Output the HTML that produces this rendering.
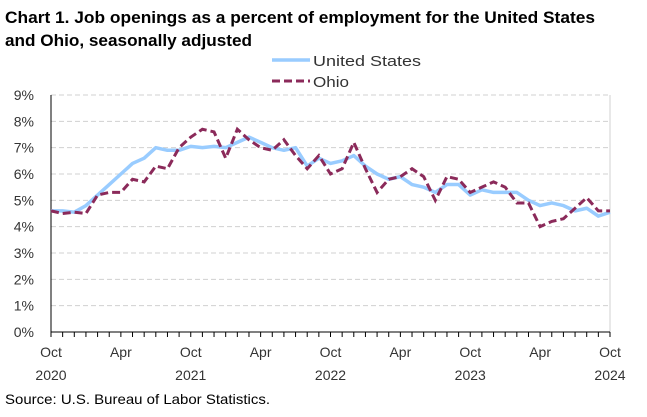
<!DOCTYPE html>
<html><head><meta charset="utf-8"><style>
body{margin:0;background:#fff;font-family:"Liberation Sans",sans-serif;}
</style></head><body>
<svg width="647" height="412" xmlns="http://www.w3.org/2000/svg" font-family="Liberation Sans, sans-serif">
<text x="5" y="23" font-size="17" font-weight="bold" fill="#000" textLength="590" lengthAdjust="spacingAndGlyphs">Chart 1. Job openings as a percent of employment for the United States</text>
<text x="5" y="46" font-size="17" font-weight="bold" fill="#000" textLength="247" lengthAdjust="spacingAndGlyphs">and Ohio, seasonally adjusted</text>
<g>
<line x1="272" y1="60" x2="310" y2="60" stroke="#99ccff" stroke-width="3.5"/>
<text x="313" y="66" font-size="15" fill="#333" textLength="108" lengthAdjust="spacingAndGlyphs">United States</text>
<line x1="272" y1="81" x2="310" y2="81" stroke="#8b2a5a" stroke-width="3" stroke-dasharray="8,4"/>
<text x="313" y="87" font-size="15" fill="#333" textLength="36" lengthAdjust="spacingAndGlyphs">Ohio</text>
</g>
<g id="grid"></g><g id="axes"></g><g id="series"></g>
<text x="5" y="404" font-size="14" fill="#000" textLength="265" lengthAdjust="spacingAndGlyphs">Source: U.S. Bureau of Labor Statistics.</text>
</svg>
<script>
const usValues=[4.6,4.6,4.55,4.8,5.2,5.6,6.0,6.4,6.6,7.0,6.9,6.9,7.05,7.0,7.05,7.0,7.2,7.4,7.2,7.0,6.9,7.0,6.3,6.6,6.4,6.5,6.7,6.3,6.0,5.8,5.9,5.6,5.5,5.3,5.6,5.6,5.2,5.4,5.3,5.3,5.3,5.0,4.8,4.9,4.8,4.6,4.7,4.4,4.55];
const ohioValues=[4.6,4.5,4.55,4.5,5.2,5.3,5.3,5.8,5.7,6.3,6.2,7.0,7.4,7.7,7.6,6.6,7.7,7.3,7.0,6.9,7.3,6.7,6.2,6.7,6.0,6.2,7.2,6.2,5.3,5.8,5.9,6.2,5.9,5.0,5.9,5.8,5.3,5.5,5.7,5.5,4.9,4.9,4.0,4.2,4.3,4.7,5.1,4.6,4.6];
const yTicks=[0,1,2,3,4,5,6,7,8,9];
const xLabels=[["Oct","2020"],["Apr",""],["Oct","2021"],["Apr",""],["Oct","2022"],["Apr",""],["Oct","2023"],["Apr",""],["Oct","2024"]];
const nMonths=48;
const X0=51,X1=610,Y0=332,Y9=95;
const x=i=>X0+(X1-X0)*i/nMonths;
const y=v=>Y0-(Y0-Y9)*v/9;
const NS="http://www.w3.org/2000/svg";
function mk(t,a,p){const e=document.createElementNS(NS,t);for(const k in a)e.setAttribute(k,a[k]);p.appendChild(e);return e;}
const grid=document.getElementById('grid'),axes=document.getElementById('axes'),series=document.getElementById('series');
yTicks.forEach(v=>{
 if(v>0){const g=mk('line',{x1:X0,x2:X1,y1:y(v),y2:y(v),stroke:'#d0d0d0','stroke-dasharray':'5,3'},grid);
 
 }
 const t=mk('text',{x:X0-17,y:y(v)+5,'font-size':14,'text-anchor':'end',fill:'#333'},axes);t.textContent=v+'%';
 
 
});
const ya=mk('line',{x1:X0,x2:X0,y1:Y9,y2:Y0,stroke:'#000','stroke-width':1},axes);


const rb=mk('line',{x1:X1,x2:X1,y1:Y9,y2:Y0,stroke:'#d0d0d0'},axes);


const xa=mk('line',{x1:X0,x2:X1,y1:Y0,y2:Y0,stroke:'#000'},axes);


for(let i=0;i<=nMonths;i++){mk('line',{x1:x(i),x2:x(i),y1:Y0,y2:Y0+5,stroke:'#000'},axes);}
xLabels.forEach((l,k)=>{const i=k*6;
 const t=mk('text',{x:x(i),y:357,'font-size':14,'text-anchor':'middle',fill:'#333'},axes);t.textContent=l[0];
 
 
 if(l[1]){const t2=mk('text',{x:x(i),y:380,'font-size':14,'text-anchor':'middle',fill:'#333'},axes);t2.textContent=l[1];
 
 }
});
function pts(a){return a.slice(0,nMonths+1).map((v,i)=>x(i)+','+y(v)).join(' ');}
const us=mk('polyline',{points:pts(usValues),fill:'none',stroke:'#99ccff','stroke-width':3.5,'stroke-linejoin':'round'},series);


const oh=mk('polyline',{points:pts(ohioValues),fill:'none',stroke:'#8b2a5a','stroke-width':3,'stroke-dasharray':'8,4'},series);


</script>
</body></html>
